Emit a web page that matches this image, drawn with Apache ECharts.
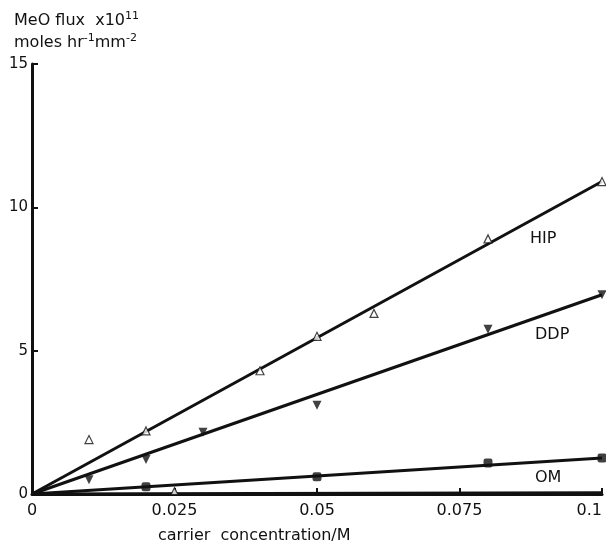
<!DOCTYPE html>
<html>
<head>
<meta charset="utf-8">
<script src="https://cdn.jsdelivr.net/npm/echarts@6/dist/echarts.min.js"></script>
<style>
  html, body { margin: 0; padding: 0; background: #fff; }
  #chart { width: 606px; height: 551px; }
</style>
</head>
<body>
<div id="chart"></div>
<script>
// 数据
const hipPoints = [[0.01, 1.9], [0.02, 2.2], [0.04, 4.3], [0.05, 5.5], [0.06, 6.3], [0.08, 8.9], [0.1, 10.9]]
const ddpPoints = [[0.01, 0.5], [0.02, 1.2], [0.03, 2.15], [0.05, 3.1], [0.08, 5.75], [0.1, 6.95]]
const omPoints = [[0.02, 0.25], [0.05, 0.6], [0.08, 1.08], [0.1, 1.26]]
const blankPoints = [[0.025, 0.1]]

// 拟合直线
const hipLine = [[0, 0], [0.1, 10.9]]
const ddpLine = [[0, 0], [0.1, 6.95]]
const omLine = [[0, 0], [0.1, 1.26]]
const blankLine = [[0, 0], [0.1, 0.04]]

const xTicks = [0, 0.025, 0.05, 0.075, 0.1]
const yTicks = [0, 5, 10, 15]

const chart = echarts.init(document.getElementById('chart'))

const font = 'DejaVu Sans'
const black = '#111'

const fitLine = (data) => ({
  type: 'line',
  data,
  showSymbol: false,
  silent: true,
  lineStyle: { color: black, width: 3 },
  z: 2
})

const option = {
  backgroundColor: '#fff',
  animation: false,
  grid: { left: 32, right: 4, top: 64, bottom: 57, outerBoundsMode: 'none', containLabel: false },
  xAxis: {
    type: 'value',
    min: xTicks[0],
    max: xTicks[xTicks.length - 1],
    interval: 0.025,
    axisLine: { lineStyle: { color: black, width: 3 } },
    axisTick: { inside: true, length: 6, lineStyle: { color: black, width: 2 } },
    axisLabel: {
      color: black, fontFamily: font, fontSize: 16, margin: 9,
      alignMaxLabel: 'right',
      formatter: (v) => String(+v.toFixed(3))
    },
    splitLine: { show: false }
  },
  yAxis: {
    type: 'value',
    min: yTicks[0],
    max: yTicks[yTicks.length - 1],
    interval: 5,
    axisLine: { show: true, lineStyle: { color: black, width: 3 } },
    axisTick: { show: true, inside: true, length: 6, lineStyle: { color: black, width: 2 } },
    axisLabel: { color: black, fontFamily: font, fontSize: 15, margin: 4 },
    splitLine: { show: false }
  },
  series: [
    fitLine(hipLine),
    fitLine(ddpLine),
    fitLine(omLine),
    fitLine(blankLine),
    {
      name: 'HIP',
      type: 'scatter',
      data: hipPoints,
      symbol: 'triangle',
      symbolSize: 8,
      itemStyle: { color: '#fff', borderColor: black, borderWidth: 1.2 },
      z: 5
    },
    {
      name: 'DDP',
      type: 'scatter',
      data: ddpPoints,
      symbol: 'triangle',
      symbolRotate: 180,
      symbolSize: 9,
      itemStyle: { color: black },
      z: 5
    },
    {
      name: 'OM',
      type: 'scatter',
      data: omPoints,
      symbol: 'roundRect',
      symbolSize: 9,
      itemStyle: { color: black },
      z: 5
    },
    {
      name: 'blank',
      type: 'scatter',
      data: blankPoints,
      symbol: 'triangle',
      symbolSize: 7,
      itemStyle: { color: '#fff', borderColor: black, borderWidth: 1.2 },
      z: 5
    }
  ],
  graphic: [
    {
      type: 'text', left: 14, top: 11,
      style: {
        text: 'MeO flux  x10{sup|11}',
        font: `16px "${font}"`, fill: black,
        rich: { sup: { fontSize: 11, padding: [0, 0, 8, 0], fontFamily: font } }
      }
    },
    {
      type: 'text', left: 14, top: 33,
      style: {
        text: 'moles hr{sup|-1}mm{sup|-2}',
        font: `16px "${font}"`, fill: black,
        rich: { sup: { fontSize: 11, padding: [0, 0, 8, 0], fontFamily: font } }
      }
    },
    { type: 'text', left: 530, top: 231, style: { text: 'HIP', font: `16px "${font}"`, fill: black } },
    { type: 'text', left: 535, top: 327, style: { text: 'DDP', font: `16px "${font}"`, fill: black } },
    { type: 'text', left: 535, top: 470, style: { text: 'OM', font: `16px "${font}"`, fill: black } },
    { type: 'text', left: 158, top: 528, style: { text: 'carrier  concentration/M', font: `16px "${font}"`, fill: black } }
  ]
}

chart.setOption(option)
</script>
</body>
</html>
